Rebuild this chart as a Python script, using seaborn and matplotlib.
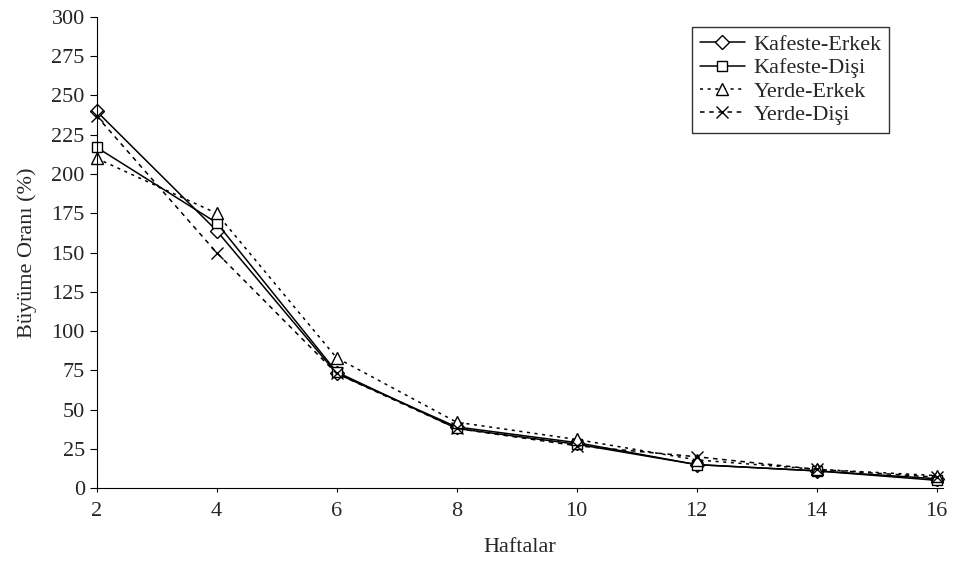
import numpy as np
import matplotlib.pyplot as plt
import pandas as pd
import seaborn as sns

# haftalar ve buyume oranlari
haftalar = [2, 4, 6, 8, 10, 12, 14, 16]
kafeste_erkek = [240, 164, 73, 39, 29, 15, 11, 6]
kafeste_disi = [217, 169, 74, 38, 28, 15, 11, 5]
yerde_erkek = [210, 175, 83, 42, 31, 18, 12, 8]
yerde_disi = [237, 150, 73, 38, 27, 20, 12, 7]

gruplar = ["Kafeste-Erkek", "Kafeste-Dişi", "Yerde-Erkek", "Yerde-Dişi"]
seriler = [kafeste_erkek, kafeste_disi, yerde_erkek, yerde_disi]

sns.set_style("ticks")
plt.rcParams["font.family"] = ["Liberation Serif", "DejaVu Serif"]

fig = plt.figure(figsize=(9.56, 5.65), dpi=100)
ax = fig.add_axes([0.101, 0.136, 0.885, 0.834])

markers = ["D", "s", "^", "x"]
linestyles = ["-", "-", (0, (2, 3)), (0, (3, 3))]
msizes = [7, 7.5, 8, 8]

# her seriyi ayri ciziyoruz
for grup, seri, m, ls, ms in zip(gruplar, seriler, markers, linestyles, msizes):
    d = pd.DataFrame({"Haftalar": haftalar, "Oran": seri})
    if m == "x":
        kw = dict(markeredgecolor="black", markeredgewidth=1.0)
    else:
        kw = dict(markerfacecolor="white", markeredgecolor="black", markeredgewidth=1.0)
    sns.lineplot(data=d, x="Haftalar", y="Oran", marker=m, linestyle=ls,
                 color="black", linewidth=1.1, markersize=ms, label=grup, ax=ax,
                 clip_on=False, **kw)

ax.set_xlim(2, 16.1)
ax.set_ylim(0, 300)
ax.set_xticks(range(2, 17, 2))
ax.set_yticks(range(0, 301, 25))
ax.tick_params(labelsize=16, direction="out", color="black")
ax.tick_params(axis="y", length=5)
ax.tick_params(axis="x", length=3, pad=7)
ax.set_xlabel("Haftalar", fontsize=16, labelpad=12)
ax.set_ylabel("Büyüme Oranı (%)", fontsize=16, labelpad=10)
sns.despine(ax=ax)
for s in ["left", "bottom"]:
    ax.spines[s].set_color("black")

leg = ax.legend(loc="upper right", bbox_to_anchor=(0.937, 0.979), fontsize=16,
                frameon=True, fancybox=False, edgecolor="black",
                handlelength=2.0, handletextpad=0.4, borderpad=0.35, labelspacing=0.12,
                borderaxespad=0)
leg.get_frame().set_linewidth(1.0)

fig.savefig("out.png", dpi=100)
